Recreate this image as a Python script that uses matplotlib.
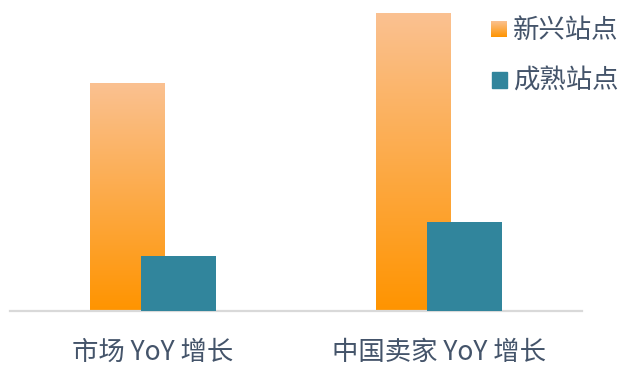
import numpy as np
import matplotlib
matplotlib.use("Agg")
import matplotlib.pyplot as plt
from matplotlib.colors import LinearSegmentedColormap
from matplotlib.patches import Rectangle

plt.rcParams['font.family'] = ['Noto Sans CJK SC', 'DejaVu Sans']

categories = ["市场 YoY 增长", "中国卖家 YoY 增长"]
series_names = ["新兴站点", "成熟站点"]
emerging = [38.1, 50.0]
mature = [9.2, 14.9]

text_color = "#44546A"
teal = "#31859C"
orange_cmap = LinearSegmentedColormap.from_list("og", ["#FF9400", "#FAC191"])

fig = plt.figure(figsize=(6.2, 3.68), dpi=100)
ax = fig.add_axes([10 / 620, 57 / 368, 572 / 620, 298 / 368])

x = np.arange(len(categories))
width = 0.262
offset = 0.09

grad = np.linspace(0, 1, 256).reshape(-1, 1)
bars = ax.bar(x - offset, emerging, width, facecolor="none", edgecolor="none", zorder=2)
for b in bars:
    x0, w, h = b.get_x(), b.get_width(), b.get_height()
    ax.imshow(grad, cmap=orange_cmap, origin="lower", aspect="auto",
              extent=(x0, x0 + w, 0, h), zorder=2)
ax.bar(x + offset, mature, width, color=teal, zorder=3)

ax.set_xlim(-0.5, 1.5)
ax.set_ylim(0, 50)
ax.set_yticks([])
for s in ["top", "right", "left"]:
    ax.spines[s].set_visible(False)
ax.spines["bottom"].set_color("#D9D9D9")
ax.spines["bottom"].set_linewidth(1.6)
ax.set_xticks(x)
ax.set_xticklabels(categories, fontsize=19, color=text_color, weight="medium")
ax.tick_params(axis="x", length=0, pad=20)

# legend drawn by hand so the orange swatch keeps its gradient
lax = fig.add_axes([491 / 620, (368 - 37) / 368, 16 / 620, 16 / 368])
lax.imshow(grad, cmap=orange_cmap, origin="lower", aspect="auto")
lax.axis("off")
fig.patches.append(Rectangle((492 / 620, (368 - 88) / 368), 15 / 620, 16 / 368,
                             transform=fig.transFigure, color=teal))
fig.text(513 / 620, (368 - 31) / 368, series_names[0], fontsize=19,
         color=text_color, va="center", ha="left", weight="medium")
fig.text(513 / 620, (368 - 81) / 368, series_names[1], fontsize=19,
         color=text_color, va="center", ha="left", weight="medium")

fig.savefig("out.png", dpi=100)
